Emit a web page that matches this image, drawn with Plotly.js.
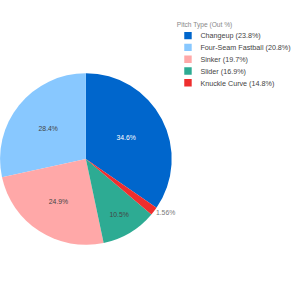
<!DOCTYPE html>
<html>
<head>
<meta charset="utf-8">
<script src="https://cdn.plot.ly/plotly-3.0.1.min.js"></script>
<style>
html,body{margin:0;padding:0;background:#fff;overflow:hidden;}
#wrap{width:293px;height:300px;overflow:hidden;position:relative;}
#chart{width:600px;height:484px;transform:scale(0.62);transform-origin:0 0;position:absolute;left:0;top:0;}
</style>
</head>
<body>
<div id="wrap"><div id="chart"></div></div>
<script>
const labels = ["Changeup (23.8%)", "Four-Seam Fastball (20.8%)", "Sinker (19.7%)", "Slider (16.9%)", "Knuckle Curve (14.8%)"];
const values = [34.6, 28.4, 24.9, 10.5, 1.56];
const colors = ["#0066cc", "#88c8ff", "#ffa8a8", "#2dab93", "#ee2e2e"];
const legendTitle = "Pitch Type (Out %)";

Plotly.newPlot('chart', [{
  type: 'pie',
  labels: labels,
  values: values,
  marker: {colors: colors},
  textinfo: 'percent',
  textposition: 'auto',
  textfont: {size: 11},
  outsidetextfont: {color: '#777'},
  sort: true,
  domain: {x: [0, 0.4617], y: [0.184, 0.756]}
}], {
  width: 600, height: 484,
  margin: {l: 0, r: 0, t: 0, b: 0},
  paper_bgcolor: '#fff',
  font: {family: 'Arial, "Liberation Sans", sans-serif', size: 11.6, color: '#444'},
  showlegend: true,
  legend: {
    x: 0.472, y: 0.94, xanchor: 'left', yanchor: 'top',
    font: {size: 11.6, color: '#444'},
    title: {text: legendTitle, font: {size: 10.7, color: '#888'}}
  }
}, {displayModeBar: false, staticPlot: true});
</script>
</body>
</html>
